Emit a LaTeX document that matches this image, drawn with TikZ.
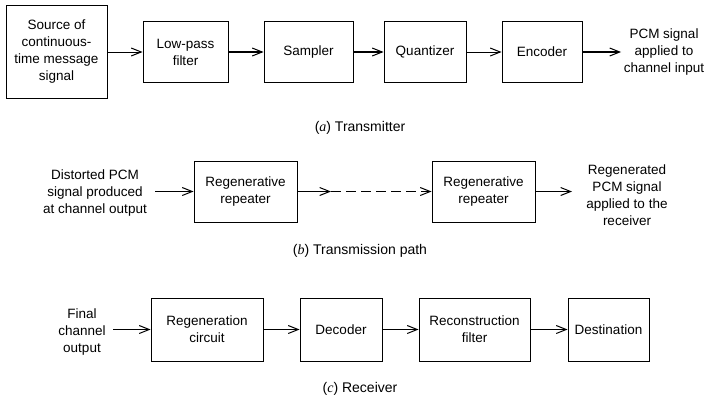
\documentclass[tikz,border=0pt]{standalone}
\usepackage{fontspec}
\setmainfont{Liberation Sans}
\newfontfamily\capserif{Liberation Serif}
\usetikzlibrary{arrows.meta}
\newcommand\blkfont{\fontsize{13.5}{17}\selectfont}
\newcommand\capfont{\fontsize{14}{16}\selectfont}
\newcommand\capletter[1]{({\capserif\itshape #1})}
\tikzset{
  blk/.style={draw, line width=0.9pt, align=center, inner sep=0pt, font=\blkfont},
  lbl/.style={align=center, inner sep=0pt, font=\blkfont},
  capt/.style={inner sep=0pt, font=\capfont},
  arr/.style={line width=1.4pt, -{Straight Barb[length=10pt,width=8pt,line width=1pt]}},
  thinarr/.style={arr, line width=1pt},
}
\begin{document}
\begin{tikzpicture}[x=1pt,y=1pt]
\useasboundingbox (0,0) rectangle (711,-397);
% (a) Transmitter
\node[blk, minimum width=101, minimum height=93] (src) at (56.5,-52) {Source of\\continuous-\\time message\\signal};
\node[blk, minimum width=85, minimum height=61] (lpf) at (185.5,-52) {Low-pass\\filter};
\node[blk, minimum width=89, minimum height=61] (smp) at (308.5,-52) {Sampler};
\node[blk, minimum width=82, minimum height=61] (qnt) at (425,-52) {Quantizer};
\node[blk, minimum width=80, minimum height=61] (enc) at (542,-52) {Encoder};
\node[lbl] (pcm) at (664,-52) {PCM signal\\applied to\\channel input};
\coordinate (pcmin) at (621,-52);
\draw[thinarr] (src) -- (lpf);
\draw[arr] (lpf) -- (smp);
\draw[arr] (smp) -- (qnt);
\draw[thinarr] (qnt) -- (enc);
\draw[arr] (enc) -- (pcmin);
\node[capt] (capa) at (360,-128) {\capletter{a} Transmitter};
% (b) Transmission path
\node[lbl] (dist) at (95,-193) {Distorted PCM\\signal produced\\at channel output};
\node[blk, minimum width=103, minimum height=61] (rp1) at (245.5,-191.5) {Regenerative\\repeater};
\node[blk, minimum width=103, minimum height=61] (rp2) at (483.5,-191.5) {Regenerative\\repeater};
\node[lbl] (regen) at (627,-195) {Regenerated\\PCM signal\\applied to the\\receiver};
\coordinate (distout) at (155,-191.5);
\coordinate (mid) at (331,-191.5);
\coordinate (regin) at (572,-191.5);
\draw[thinarr] (distout) -- (rp1);
\draw[arr] (rp1) -- (mid);
\draw[arr, dash pattern=on 10pt off 5pt] (mid) -- (rp2);
\draw[thinarr] (rp2) -- (regin);
\node[capt] (capb) at (360,-251) {\capletter{b} Transmission path};
% (c) Receiver
\node[lbl] (fin) at (82,-332) {Final\\channel\\output};
\node[blk, minimum width=112, minimum height=63] (rgc) at (207,-329.5) {Regeneration\\circuit};
\node[blk, minimum width=82, minimum height=63] (dec) at (341,-329.5) {Decoder};
\node[blk, minimum width=111, minimum height=63] (rcf) at (474.5,-329.5) {Reconstruction\\filter};
\node[blk, minimum width=81, minimum height=63] (dst) at (608.5,-329.5) {Destination};
\coordinate (finout) at (113,-329.5);
\draw[thinarr] (finout) -- (rgc);
\draw[arr] (rgc) -- (dec);
\draw[arr] (dec) -- (rcf);
\draw[arr] (rcf) -- (dst);
\node[capt] (capc) at (360,-389) {\capletter{c} Receiver};
\end{tikzpicture}
\end{document}
